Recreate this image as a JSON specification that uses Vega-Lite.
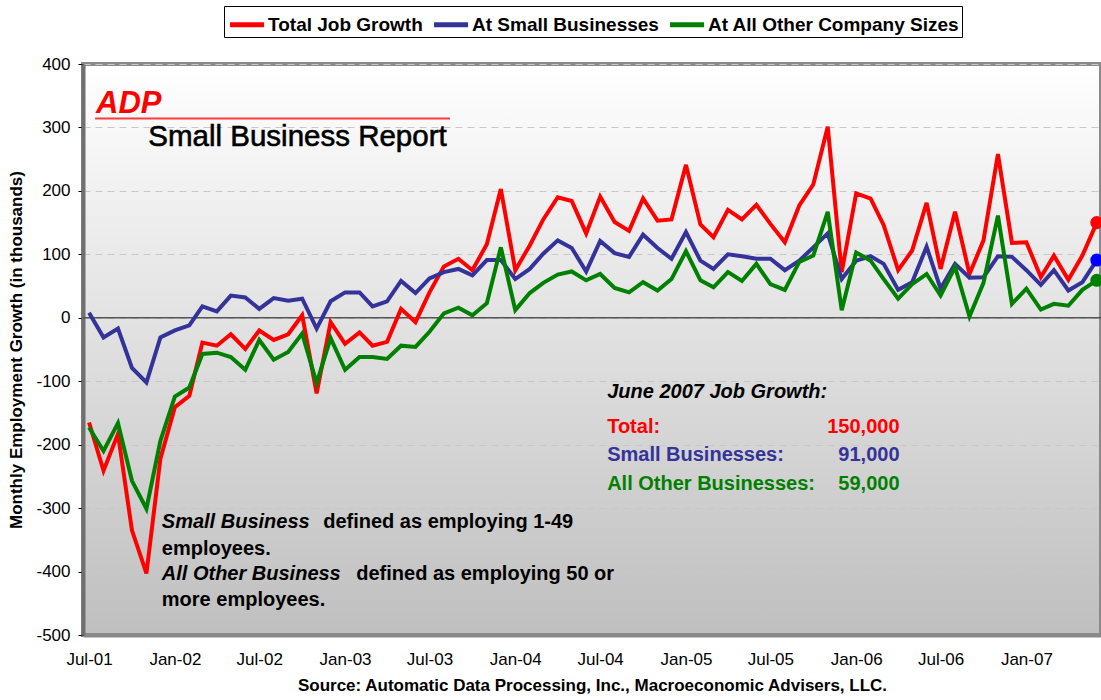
{
  "$schema": "https://vega.github.io/schema/vega-lite/v6.json",
  "width": 1018,
  "height": 571,
  "autosize": {"type": "none"},
  "padding": {"left": 83, "top": 64, "right": 0, "bottom": 65},
  "background": "white",
  "config": {
    "font": "Liberation Sans",
    "view": {
      "stroke": "#8a8a8a",
      "strokeWidth": 4,
      "fill": {"gradient": "linear", "x1": 0, "y1": 0, "x2": 0, "y2": 1,
        "stops": [{"offset": 0, "color": "#ffffff"}, {"offset": 1, "color": "#bfbfbf"}]}
    }
  },
  "data": {"values": [
    {"date": "2001-07-01", "Total Job Growth": -165, "At Small Businesses": 8, "At All Other Company Sizes": -173},
    {"date": "2001-08-01", "Total Job Growth": -241, "At Small Businesses": -31, "At All Other Company Sizes": -210},
    {"date": "2001-09-01", "Total Job Growth": -183, "At Small Businesses": -17, "At All Other Company Sizes": -166},
    {"date": "2001-10-01", "Total Job Growth": -335, "At Small Businesses": -79, "At All Other Company Sizes": -257},
    {"date": "2001-11-01", "Total Job Growth": -403, "At Small Businesses": -102, "At All Other Company Sizes": -301},
    {"date": "2001-12-01", "Total Job Growth": -222, "At Small Businesses": -31, "At All Other Company Sizes": -194},
    {"date": "2002-01-01", "Total Job Growth": -141, "At Small Businesses": -20, "At All Other Company Sizes": -124},
    {"date": "2002-02-01", "Total Job Growth": -123, "At Small Businesses": -12, "At All Other Company Sizes": -110},
    {"date": "2002-03-01", "Total Job Growth": -39, "At Small Businesses": 18, "At All Other Company Sizes": -57},
    {"date": "2002-04-01", "Total Job Growth": -44, "At Small Businesses": 10, "At All Other Company Sizes": -55},
    {"date": "2002-05-01", "Total Job Growth": -26, "At Small Businesses": 35, "At All Other Company Sizes": -62},
    {"date": "2002-06-01", "Total Job Growth": -49, "At Small Businesses": 32, "At All Other Company Sizes": -82},
    {"date": "2002-07-01", "Total Job Growth": -20, "At Small Businesses": 14, "At All Other Company Sizes": -35},
    {"date": "2002-08-01", "Total Job Growth": -35, "At Small Businesses": 31, "At All Other Company Sizes": -66},
    {"date": "2002-09-01", "Total Job Growth": -26, "At Small Businesses": 27, "At All Other Company Sizes": -54},
    {"date": "2002-10-01", "Total Job Growth": 4, "At Small Businesses": 30, "At All Other Company Sizes": -25},
    {"date": "2002-11-01", "Total Job Growth": -119, "At Small Businesses": -17, "At All Other Company Sizes": -103},
    {"date": "2002-12-01", "Total Job Growth": -7, "At Small Businesses": 26, "At All Other Company Sizes": -32},
    {"date": "2003-01-01", "Total Job Growth": -41, "At Small Businesses": 40, "At All Other Company Sizes": -82},
    {"date": "2003-02-01", "Total Job Growth": -23, "At Small Businesses": 40, "At All Other Company Sizes": -62},
    {"date": "2003-03-01", "Total Job Growth": -44, "At Small Businesses": 18, "At All Other Company Sizes": -62},
    {"date": "2003-04-01", "Total Job Growth": -38, "At Small Businesses": 26, "At All Other Company Sizes": -65},
    {"date": "2003-05-01", "Total Job Growth": 14, "At Small Businesses": 58, "At All Other Company Sizes": -44},
    {"date": "2003-06-01", "Total Job Growth": -7, "At Small Businesses": 39, "At All Other Company Sizes": -46},
    {"date": "2003-07-01", "Total Job Growth": 40, "At Small Businesses": 62, "At All Other Company Sizes": -22},
    {"date": "2003-08-01", "Total Job Growth": 81, "At Small Businesses": 72, "At All Other Company Sizes": 7},
    {"date": "2003-09-01", "Total Job Growth": 93, "At Small Businesses": 77, "At All Other Company Sizes": 16},
    {"date": "2003-10-01", "Total Job Growth": 75, "At Small Businesses": 67, "At All Other Company Sizes": 4},
    {"date": "2003-11-01", "Total Job Growth": 116, "At Small Businesses": 91, "At All Other Company Sizes": 23},
    {"date": "2003-12-01", "Total Job Growth": 203, "At Small Businesses": 91, "At All Other Company Sizes": 111},
    {"date": "2004-01-01", "Total Job Growth": 75, "At Small Businesses": 61, "At All Other Company Sizes": 12},
    {"date": "2004-02-01", "Total Job Growth": 114, "At Small Businesses": 77, "At All Other Company Sizes": 39},
    {"date": "2004-03-01", "Total Job Growth": 155, "At Small Businesses": 101, "At All Other Company Sizes": 55},
    {"date": "2004-04-01", "Total Job Growth": 190, "At Small Businesses": 122, "At All Other Company Sizes": 68},
    {"date": "2004-05-01", "Total Job Growth": 184, "At Small Businesses": 110, "At All Other Company Sizes": 73},
    {"date": "2004-06-01", "Total Job Growth": 133, "At Small Businesses": 73, "At All Other Company Sizes": 59},
    {"date": "2004-07-01", "Total Job Growth": 191, "At Small Businesses": 121, "At All Other Company Sizes": 69},
    {"date": "2004-08-01", "Total Job Growth": 151, "At Small Businesses": 102, "At All Other Company Sizes": 47},
    {"date": "2004-09-01", "Total Job Growth": 137, "At Small Businesses": 96, "At All Other Company Sizes": 40},
    {"date": "2004-10-01", "Total Job Growth": 188, "At Small Businesses": 131, "At All Other Company Sizes": 56},
    {"date": "2004-11-01", "Total Job Growth": 153, "At Small Businesses": 110, "At All Other Company Sizes": 43},
    {"date": "2004-12-01", "Total Job Growth": 155, "At Small Businesses": 93, "At All Other Company Sizes": 61},
    {"date": "2005-01-01", "Total Job Growth": 241, "At Small Businesses": 135, "At All Other Company Sizes": 105},
    {"date": "2005-02-01", "Total Job Growth": 147, "At Small Businesses": 90, "At All Other Company Sizes": 59},
    {"date": "2005-03-01", "Total Job Growth": 127, "At Small Businesses": 77, "At All Other Company Sizes": 48},
    {"date": "2005-04-01", "Total Job Growth": 170, "At Small Businesses": 100, "At All Other Company Sizes": 72},
    {"date": "2005-05-01", "Total Job Growth": 155, "At Small Businesses": 97, "At All Other Company Sizes": 58},
    {"date": "2005-06-01", "Total Job Growth": 178, "At Small Businesses": 93, "At All Other Company Sizes": 85},
    {"date": "2005-07-01", "Total Job Growth": 148, "At Small Businesses": 93, "At All Other Company Sizes": 53},
    {"date": "2005-08-01", "Total Job Growth": 119, "At Small Businesses": 75, "At All Other Company Sizes": 44},
    {"date": "2005-09-01", "Total Job Growth": 177, "At Small Businesses": 90, "At All Other Company Sizes": 88},
    {"date": "2005-10-01", "Total Job Growth": 210, "At Small Businesses": 111, "At All Other Company Sizes": 98},
    {"date": "2005-11-01", "Total Job Growth": 301, "At Small Businesses": 133, "At All Other Company Sizes": 167},
    {"date": "2005-12-01", "Total Job Growth": 72, "At Small Businesses": 61, "At All Other Company Sizes": 12},
    {"date": "2006-01-01", "Total Job Growth": 196, "At Small Businesses": 90, "At All Other Company Sizes": 103},
    {"date": "2006-02-01", "Total Job Growth": 188, "At Small Businesses": 97, "At All Other Company Sizes": 90},
    {"date": "2006-03-01", "Total Job Growth": 146, "At Small Businesses": 85, "At All Other Company Sizes": 61},
    {"date": "2006-04-01", "Total Job Growth": 75, "At Small Businesses": 44, "At All Other Company Sizes": 30},
    {"date": "2006-05-01", "Total Job Growth": 106, "At Small Businesses": 56, "At All Other Company Sizes": 53},
    {"date": "2006-06-01", "Total Job Growth": 181, "At Small Businesses": 112, "At All Other Company Sizes": 69},
    {"date": "2006-07-01", "Total Job Growth": 77, "At Small Businesses": 46, "At All Other Company Sizes": 35},
    {"date": "2006-08-01", "Total Job Growth": 167, "At Small Businesses": 85, "At All Other Company Sizes": 80},
    {"date": "2006-09-01", "Total Job Growth": 69, "At Small Businesses": 63, "At All Other Company Sizes": 2},
    {"date": "2006-10-01", "Total Job Growth": 122, "At Small Businesses": 64, "At All Other Company Sizes": 55},
    {"date": "2006-11-01", "Total Job Growth": 258, "At Small Businesses": 97, "At All Other Company Sizes": 161},
    {"date": "2006-12-01", "Total Job Growth": 118, "At Small Businesses": 96, "At All Other Company Sizes": 22},
    {"date": "2007-01-01", "Total Job Growth": 119, "At Small Businesses": 75, "At All Other Company Sizes": 46},
    {"date": "2007-02-01", "Total Job Growth": 64, "At Small Businesses": 52, "At All Other Company Sizes": 13},
    {"date": "2007-03-01", "Total Job Growth": 98, "At Small Businesses": 75, "At All Other Company Sizes": 22},
    {"date": "2007-04-01", "Total Job Growth": 60, "At Small Businesses": 43, "At All Other Company Sizes": 19},
    {"date": "2007-05-01", "Total Job Growth": 98, "At Small Businesses": 56, "At All Other Company Sizes": 44},
    {"date": "2007-06-01", "Total Job Growth": 150, "At Small Businesses": 91, "At All Other Company Sizes": 59}
  ]},
  "layer": [
    {
      "data": {"values": [{}]},
      "mark": {"type": "rule", "color": "#555555", "strokeWidth": 1.5},
      "encoding": {"y": {"datum": 0, "type": "quantitative"}}
    },
    {
      "transform": [{"fold": ["Total Job Growth", "At Small Businesses", "At All Other Company Sizes"], "as": ["series", "value"]}],
      "mark": {"type": "line", "strokeWidth": 4},
      "encoding": {
        "x": {
          "field": "date", "type": "temporal",
          "scale": {"type": "utc", "domain": [{"year": 2001, "month": 6, "date": 18, "utc": true}, {"year": 2007, "month": 6, "date": 10, "utc": true}]},
          "axis": {
            "values": [
              {"year": 2001, "month": 7, "date": 1, "utc": true},
              {"year": 2002, "month": 1, "date": 1, "utc": true},
              {"year": 2002, "month": 7, "date": 1, "utc": true},
              {"year": 2003, "month": 1, "date": 1, "utc": true},
              {"year": 2003, "month": 7, "date": 1, "utc": true},
              {"year": 2004, "month": 1, "date": 1, "utc": true},
              {"year": 2004, "month": 7, "date": 1, "utc": true},
              {"year": 2005, "month": 1, "date": 1, "utc": true},
              {"year": 2005, "month": 7, "date": 1, "utc": true},
              {"year": 2006, "month": 1, "date": 1, "utc": true},
              {"year": 2006, "month": 7, "date": 1, "utc": true},
              {"year": 2007, "month": 1, "date": 1, "utc": true}
            ],
            "format": "%b-%y",
            "labelFontSize": 17,
            "labelColor": "#000000",
            "labelOverlap": false,
            "labelFlush": false,
            "tickSize": 0,
            "labelPadding": 16,
            "domainColor": "#888888",
            "domainWidth": 4,
            "grid": false,
            "title": "Source: Automatic Data Processing, Inc., Macroeconomic Advisers, LLC.",
            "titleFontSize": 17,
            "titleFontWeight": "bold",
            "titleColor": "#000000",
            "titlePadding": 10
          }
        },
        "y": {
          "field": "value", "type": "quantitative",
          "scale": {"domain": [-500, 400], "nice": false},
          "axis": {
            "values": [-500, -400, -300, -200, -100, 0, 100, 200, 300, 400],
            "labelExpr": "datum.value < 0 ? '-' + abs(datum.value) : '' + datum.value",
            "title": "Monthly Employment Growth (in thousands)",
            "titleFontSize": 17,
            "titleFontWeight": "bold",
            "titleColor": "#000000",
            "titlePadding": 10,
            "labelFontSize": 17,
            "labelColor": "#000000",
            "tickSize": 5,
            "tickColor": "#000000",
            "labelPadding": 8,
            "domainColor": "#707070",
            "domainWidth": 4,
            "grid": true,
            "gridColor": "#c8c8c8",
            "gridDash": [7, 5],
            "gridWidth": 1
          }
        },
        "color": {
          "field": "series", "type": "nominal",
          "scale": {"domain": ["Total Job Growth", "At Small Businesses", "At All Other Company Sizes"], "range": ["#ff0000", "#333399", "#008000"]},
          "legend": {
            "orient": "none", "legendX": 141, "legendY": -58, "direction": "horizontal", "title": null,
            "symbolType": "M-0.89,0H1.54", "symbolSize": 784, "symbolStrokeWidth": 5,
            "labelFontSize": 19, "labelFontWeight": "bold", "labelColor": "#000000", "labelLimit": 400,
            "strokeColor": "#000000", "fillColor": "#ffffff", "padding": 2, "labelOffset": 9, "columnPadding": 1
          }
        }
      }
    },
    {
      "transform": [
        {"fold": ["Total Job Growth", "At Small Businesses", "At All Other Company Sizes"], "as": ["series", "value"]},
        {"filter": "utcyear(datum.date) == 2007 && utcmonth(datum.date) == 5"}
      ],
      "mark": {"type": "circle", "size": 170, "opacity": 1},
      "encoding": {
        "x": {"field": "date", "type": "temporal"},
        "y": {"field": "value", "type": "quantitative"},
        "fill": {"field": "series", "type": "nominal",
          "scale": {"domain": ["Total Job Growth", "At Small Businesses", "At All Other Company Sizes"], "range": ["#ff0000", "#0000ff", "#008000"]},
          "legend": null}
      }
    },
    {
      "data": {"values": [{}]},
      "mark": {"type": "rule", "color": "#ff3b3b", "strokeWidth": 2},
      "encoding": {
        "x": {"datum": {"year": 2001, "month": 7, "date": 14, "utc": true}, "type": "temporal"},
        "x2": {"datum": {"year": 2003, "month": 8, "date": 14, "utc": true}},
        "y": {"datum": 314, "type": "quantitative"}
      }
    },
    {
      "data": {"values": [{}]},
      "mark": {"type": "text", "text": "ADP", "align": "left", "baseline": "alphabetic", "fontSize": 31, "fontWeight": "bold", "fontStyle": "italic", "color": "#ff0000"},
      "encoding": {
        "x": {"datum": {"year": 2001, "month": 7, "date": 16, "utc": true}, "type": "temporal"},
        "y": {"datum": 322, "type": "quantitative"}
      }
    },
    {
      "data": {"values": [{}]},
      "mark": {"type": "text", "text": "Small Business Report", "align": "left", "baseline": "alphabetic", "fontSize": 29.5, "color": "#000000", "stroke": "#000000", "strokeWidth": 0.6},
      "encoding": {
        "x": {"datum": {"year": 2001, "month": 11, "date": 5, "utc": true}, "type": "temporal"},
        "y": {"datum": 270, "type": "quantitative"}
      }
    },
    {
      "data": {"values": [{}]},
      "mark": {"type": "text", "text": "June 2007 Job Growth:", "align": "left", "baseline": "alphabetic", "fontSize": 20, "fontWeight": "bold", "fontStyle": "italic", "color": "#000000"},
      "encoding": {
        "x": {"datum": {"year": 2004, "month": 7, "date": 16, "utc": true}, "type": "temporal"},
        "y": {"datum": -126, "type": "quantitative"}
      }
    },
    {
      "data": {"values": [{}]},
      "mark": {"type": "text", "text": "Total:", "align": "left", "baseline": "alphabetic", "fontSize": 20, "fontWeight": "bold", "color": "#ff0000"},
      "encoding": {
        "x": {"datum": {"year": 2004, "month": 7, "date": 16, "utc": true}, "type": "temporal"},
        "y": {"datum": -182, "type": "quantitative"}
      }
    },
    {
      "data": {"values": [{}]},
      "mark": {"type": "text", "text": "150,000", "align": "right", "baseline": "alphabetic", "fontSize": 20, "fontWeight": "bold", "color": "#ff0000"},
      "encoding": {
        "x": {"datum": {"year": 2006, "month": 4, "date": 4, "utc": true}, "type": "temporal"},
        "y": {"datum": -182, "type": "quantitative"}
      }
    },
    {
      "data": {"values": [{}]},
      "mark": {"type": "text", "text": "Small Businesses:", "align": "left", "baseline": "alphabetic", "fontSize": 20, "fontWeight": "bold", "color": "#333399"},
      "encoding": {
        "x": {"datum": {"year": 2004, "month": 7, "date": 16, "utc": true}, "type": "temporal"},
        "y": {"datum": -226, "type": "quantitative"}
      }
    },
    {
      "data": {"values": [{}]},
      "mark": {"type": "text", "text": "91,000", "align": "right", "baseline": "alphabetic", "fontSize": 20, "fontWeight": "bold", "color": "#333399"},
      "encoding": {
        "x": {"datum": {"year": 2006, "month": 4, "date": 4, "utc": true}, "type": "temporal"},
        "y": {"datum": -226, "type": "quantitative"}
      }
    },
    {
      "data": {"values": [{}]},
      "mark": {"type": "text", "text": "All Other Businesses:", "align": "left", "baseline": "alphabetic", "fontSize": 20, "fontWeight": "bold", "color": "#008000"},
      "encoding": {
        "x": {"datum": {"year": 2004, "month": 7, "date": 16, "utc": true}, "type": "temporal"},
        "y": {"datum": -271, "type": "quantitative"}
      }
    },
    {
      "data": {"values": [{}]},
      "mark": {"type": "text", "text": "59,000", "align": "right", "baseline": "alphabetic", "fontSize": 20, "fontWeight": "bold", "color": "#008000"},
      "encoding": {
        "x": {"datum": {"year": 2006, "month": 4, "date": 4, "utc": true}, "type": "temporal"},
        "y": {"datum": -271, "type": "quantitative"}
      }
    },
    {
      "data": {"values": [{}]},
      "mark": {"type": "text", "text": "Small Business", "align": "left", "baseline": "alphabetic", "fontSize": 20, "fontWeight": "bold", "fontStyle": "italic", "color": "#000000"},
      "encoding": {
        "x": {"datum": {"year": 2001, "month": 12, "date": 4, "utc": true}, "type": "temporal"},
        "y": {"datum": -332, "type": "quantitative"}
      }
    },
    {
      "data": {"values": [{}]},
      "mark": {"type": "text", "text": "defined as employing 1-49", "align": "left", "baseline": "alphabetic", "fontSize": 20, "fontWeight": "bold", "color": "#000000"},
      "encoding": {
        "x": {"datum": {"year": 2002, "month": 11, "date": 15, "utc": true}, "type": "temporal"},
        "y": {"datum": -332, "type": "quantitative"}
      }
    },
    {
      "data": {"values": [{}]},
      "mark": {"type": "text", "text": "employees.", "align": "left", "baseline": "alphabetic", "fontSize": 20, "fontWeight": "bold", "color": "#000000"},
      "encoding": {
        "x": {"datum": {"year": 2001, "month": 12, "date": 4, "utc": true}, "type": "temporal"},
        "y": {"datum": -374, "type": "quantitative"}
      }
    },
    {
      "data": {"values": [{}]},
      "mark": {"type": "text", "text": "All Other Business", "align": "left", "baseline": "alphabetic", "fontSize": 20, "fontWeight": "bold", "fontStyle": "italic", "color": "#000000"},
      "encoding": {
        "x": {"datum": {"year": 2001, "month": 12, "date": 4, "utc": true}, "type": "temporal"},
        "y": {"datum": -413, "type": "quantitative"}
      }
    },
    {
      "data": {"values": [{}]},
      "mark": {"type": "text", "text": "defined as employing 50 or", "align": "left", "baseline": "alphabetic", "fontSize": 20, "fontWeight": "bold", "color": "#000000"},
      "encoding": {
        "x": {"datum": {"year": 2003, "month": 1, "date": 25, "utc": true}, "type": "temporal"},
        "y": {"datum": -413, "type": "quantitative"}
      }
    },
    {
      "data": {"values": [{}]},
      "mark": {"type": "text", "text": "more employees.", "align": "left", "baseline": "alphabetic", "fontSize": 20, "fontWeight": "bold", "color": "#000000"},
      "encoding": {
        "x": {"datum": {"year": 2001, "month": 12, "date": 4, "utc": true}, "type": "temporal"},
        "y": {"datum": -455, "type": "quantitative"}
      }
    }
  ]
}
